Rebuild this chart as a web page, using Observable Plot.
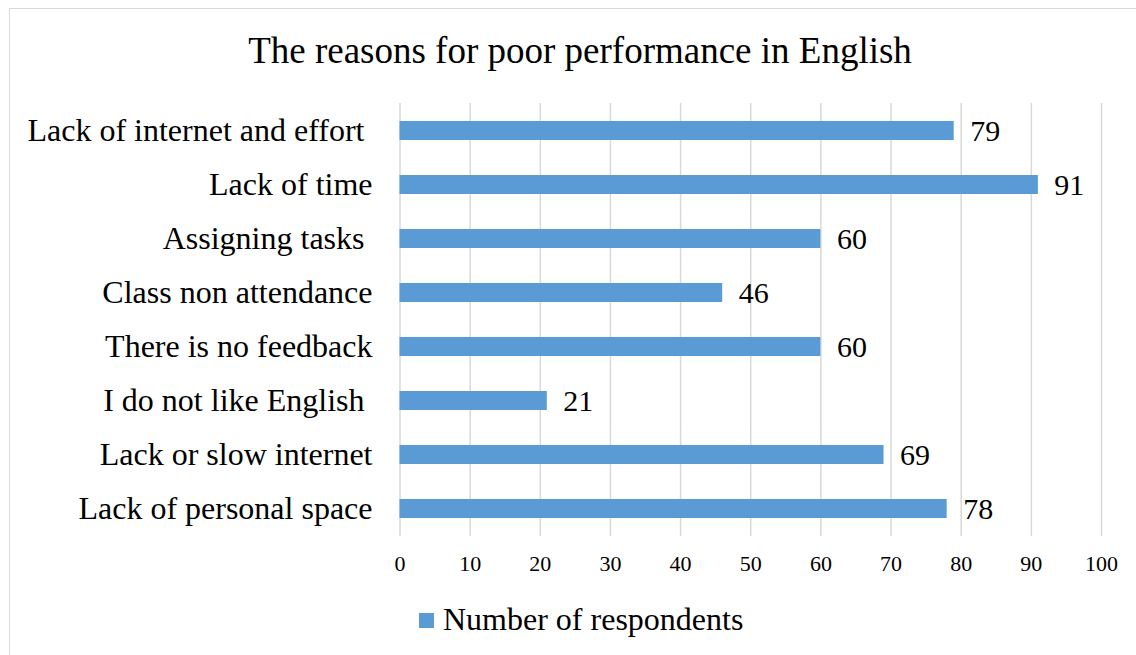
<!DOCTYPE html>
<html>
<head>
<meta charset="utf-8">
<script src="https://cdn.jsdelivr.net/npm/d3@7"></script>
<script src="https://cdn.jsdelivr.net/npm/@observablehq/plot@0.6"></script>
<style>
  html, body { margin: 0; padding: 0; background: #fff; }
  #wrap { position: relative; width: 1136px; height: 655px; overflow: hidden; font-family: "Liberation Serif", "Times New Roman", serif; color: #000; }
  #frame { position: absolute; left: 9px; top: 7.5px; width: 1140px; height: 660px; border: 1.5px solid #d9d9d9; box-sizing: border-box; }
  #title { position: absolute; left: 0; width: 1160px; top: 32px; text-align: center; font-size: 37px; line-height: 1; white-space: nowrap; }
  #legend { position: absolute; left: 419px; top: 603px; font-size: 32px; line-height: 1; white-space: nowrap; display: flex; align-items: center; }
  #legend .sw { display: inline-block; width: 15px; height: 15px; background: #5b9bd5; margin-right: 9px; margin-top: 3px; }
  #chart { position: absolute; left: 0; top: 0; }
</style>
</head>
<body>
<div id="wrap">
  <div id="frame"></div>
  <div id="title">The reasons for poor performance in English</div>
  <div id="chart"></div>
  <div id="legend"><span class="sw"></span><span>Number of respondents</span></div>
</div>
<script>
const categories = [
  "Lack of internet and effort ",
  "Lack of time",
  "Assigning tasks ",
  "Class non attendance",
  "There is no feedback",
  "I do not like English ",
  "Lack or slow internet",
  "Lack of personal space"
];
const respondents = [79, 91, 60, 46, 60, 21, 69, 78];
const xTicks = [0, 10, 20, 30, 40, 50, 60, 70, 80, 90, 100];
const seriesName = "Number of respondents";

const data = categories.map((c, i) => ({reason: c, count: respondents[i]}));

const chart = Plot.plot({
  width: 1136,
  height: 655,
  marginLeft: 399.5,
  marginRight: 35,
  marginTop: 103,
  marginBottom: 119,
  style: {fontFamily: '"Liberation Serif", "Times New Roman", serif', color: "#000", background: "transparent", overflow: "visible"},
  x: {domain: [0, 100], ticks: xTicks, label: null},
  y: {domain: categories, paddingInner: 0.655, paddingOuter: 0.3275, label: null},
  marks: [
    Plot.gridX(xTicks, {stroke: "#d9d9d9", strokeOpacity: 1, strokeWidth: 1.5}),
    Plot.axisX(xTicks, {tickSize: 0, tickPadding: 19, fontSize: 22, label: null}),
    Plot.axisY({tickSize: 0, tickPadding: 27.5, fontSize: 32, label: null, tickFormat: d => d.replace(/ $/, "\u00a0")}),
    Plot.barX(data, {x: "count", y: "reason", fill: "#5b9bd5"}),
    Plot.text(data, {x: "count", y: "reason", text: d => String(d.count), textAnchor: "start", dx: 16, fontSize: 30, fill: "#000"})
  ]
});
document.getElementById("chart").appendChild(chart);
</script>
</body>
</html>
